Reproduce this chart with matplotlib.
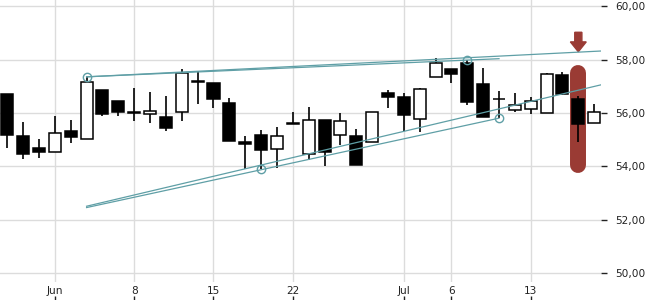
import matplotlib
matplotlib.use("Agg")
from matplotlib import pyplot as plt
from matplotlib.patches import FancyArrow
from matplotlib.ticker import FuncFormatter

# OHLC for each trading day (index 0 = May 27)
opens  = [56.71, 55.14, 54.69, 54.53, 55.33, 55.02, 56.86, 56.46, 56.04, 55.95,
          55.85, 56.03, 57.20, 57.12, 56.37, 54.92, 55.17, 54.67, 55.63, 54.46,
          55.73, 55.17, 55.14, 54.91, 56.75, 56.60, 55.77, 57.34, 57.65, 57.87,
          57.09, 56.54, 56.13, 56.14, 56.02, 57.42, 56.53, 55.62]
highs  = [56.71, 55.67, 55.03, 55.89, 55.74, 57.36, 56.86, 56.46, 56.94, 56.79,
          56.65, 57.64, 57.58, 57.12, 56.55, 55.13, 55.37, 55.48, 56.04, 56.23,
          55.73, 56.00, 55.40, 56.03, 56.87, 56.74, 56.94, 58.07, 57.66, 57.99,
          57.69, 56.82, 56.75, 56.60, 57.49, 57.54, 56.63, 56.34]
lows   = [54.70, 54.29, 54.33, 54.53, 54.87, 55.02, 55.90, 55.90, 55.72, 55.64,
          55.34, 55.72, 56.35, 56.20, 54.97, 53.92, 53.92, 53.96, 55.58, 54.24,
          54.03, 54.82, 54.07, 54.91, 56.20, 55.33, 55.28, 57.34, 57.14, 56.31,
          55.87, 55.81, 56.04, 55.96, 56.00, 56.68, 54.93, 55.62]
closes = [55.19, 54.48, 54.55, 55.24, 55.12, 57.15, 55.95, 56.03, 56.02, 56.07,
          55.45, 57.49, 57.18, 56.54, 54.97, 54.86, 54.61, 55.13, 55.61, 55.73,
          54.53, 55.69, 54.07, 56.03, 56.59, 55.94, 56.89, 57.87, 57.48, 56.43,
          55.87, 56.52, 56.29, 56.44, 57.45, 56.73, 55.60, 56.03]

tick_pos = [3, 8, 13, 18, 25, 28, 33]
tick_labels = ['Jun', '8', '15', '22', 'Jul', '6', '13']
y_ticks = [50, 52, 54, 56, 58, 60]

# trend lines: (start index, start value, end index, end value)
trend_lines = [
    (5, 57.36, 37.5, 58.33),
    (5, 57.36, 31, 58.04),
    (5, 52.46, 31, 55.81),
    (5, 52.51, 37.5, 57.07),
]
# pivot circles
pivot_x = [5, 29, 16, 31]
pivot_y = [57.36, 57.99, 53.92, 55.81]

# highlighted day + arrow
hl_day = 36
hl_low, hl_high = 54.04, 57.50
arrow_top, arrow_tip = 59.03, 58.30

teal = '#5f9fa6'
red = '#9a3b34'

fig = plt.figure(figsize=(6.5, 3.0), dpi=100)
ax = fig.add_axes([0.0, 0.06, 601 / 650, 0.94])

ax.set_xlim(-0.46, 37.43)
ax.set_ylim(49.67, 60.24)

ax.set_xticks(tick_pos)
ax.set_xticklabels(tick_labels)
ax.set_yticks(y_ticks)
ax.yaxis.set_major_formatter(FuncFormatter(lambda v, p: ('%.2f' % v).replace('.', ',')))
ax.yaxis.tick_right()
ax.grid(True, color='#dcdcdc', linewidth=1.0)
ax.set_axisbelow(True)
for s in ax.spines.values():
    s.set_visible(False)
ax.tick_params(axis='y', length=4, width=1, color='#222222', pad=6,
               labelsize=7.6, labelcolor='#222222')
ax.tick_params(axis='x', length=0, pad=3, labelsize=7.6, labelcolor='#222222')

# little tick marks under the date labels
sec = ax.secondary_xaxis(-0.05)
sec.set_xticks(tick_pos)
sec.set_xticklabels([])
sec.spines['bottom'].set_visible(False)
sec.tick_params(axis='x', length=3, width=1, color='#222222')

# highlight bar
ax.plot([hl_day, hl_day], [hl_low, hl_high], color=red, lw=11.5,
        solid_capstyle='round', zorder=2)
ax.add_patch(FancyArrow(hl_day, arrow_top, 0, arrow_tip - arrow_top,
                        width=0.45, head_width=1.0, head_length=0.37,
                        length_includes_head=True, color=red, zorder=2))

# candles
xs = list(range(len(opens)))
ax.vlines(xs, lows, highs, color='black', linewidth=1.2, zorder=3)
bottoms = [min(o, c) for o, c in zip(opens, closes)]
heights = [abs(c - o) for o, c in zip(opens, closes)]
fills = ['white' if c >= o else 'black' for o, c in zip(opens, closes)]
ax.bar(xs, heights, bottom=bottoms, width=0.76, color=fills,
       edgecolor='black', linewidth=1.1, zorder=4)

# trend lines
for x0, y0, x1, y1 in trend_lines:
    ax.plot([x0, x1], [y0, y1], color=teal, linewidth=0.9, zorder=5)
ax.plot(pivot_x, pivot_y, 'o', ms=6, mfc='none', mec=teal, mew=1.0, zorder=6)

fig.savefig('out.png', dpi=100)
